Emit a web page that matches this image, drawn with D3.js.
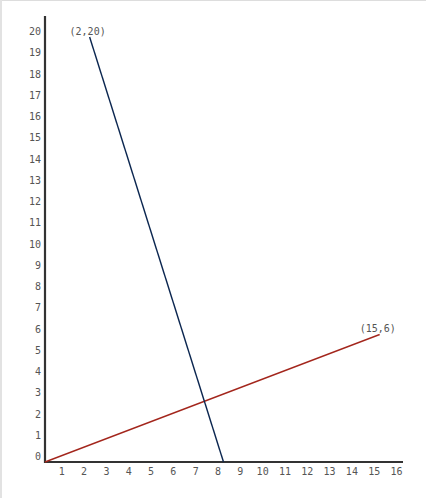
<!DOCTYPE html>
<html>
<head>
<meta charset="UTF-8">
<title>Two lines</title>
<script src="https://d3js.org/d3.v7.min.js"></script>
<style>
  body {margin:0; background:#fff;}
  svg {display:block;}
  .tick text, .lbl {font-family:"DejaVu Sans Mono", monospace; font-size:10px; fill:#555;}
</style>
</head>
<body>
<div id="chart"></div>
<script>
// data
var xTicks = [1,2,3,4,5,6,7,8,9,10,11,12,13,14,15,16];
var yTicks = [0,1,2,3,4,5,6,7,8,9,10,11,12,13,14,15,16,17,18,19,20];
var blueLine = [[2,20],[8,0]];
var redLine = [[0,0],[15,6]];
var pointLabels = [[2,20],[15,6]];

var width = 426, height = 498;

var x = d3.scaleLinear().domain([0,16]).range([45,402]);
var y = d3.scaleLinear().domain([0,20]).range([462,37]);

var svg = d3.select("#chart").append("svg")
    .attr("width", width)
    .attr("height", height);

// faint frame on top and left
svg.append("line").attr("x1",0).attr("x2",width).attr("y1",0.5).attr("y2",0.5)
    .attr("stroke","#ddd").attr("stroke-width",1);
svg.append("line").attr("x1",1).attr("x2",1).attr("y1",0).attr("y2",height)
    .attr("stroke","#e2e2e2").attr("stroke-width",2);

// axes, ticks without marks
var yAxis = svg.append("g")
    .call(d3.axisLeft(y).tickValues(yTicks).tickSize(0).tickFormat(d3.format("d")));
yAxis.select(".domain").remove();
yAxis.selectAll("text")
    .attr("x", 41)
    .attr("y", -6)
    .attr("dy", "0.35em")
    .attr("text-anchor", "end");

var xAxis = svg.append("g")
    .call(d3.axisBottom(x).tickValues(xTicks).tickSize(0).tickFormat(d3.format("d")));
xAxis.select(".domain").remove();
xAxis.attr("transform", "translate(0," + y(0) + ")");
xAxis.selectAll("text")
    .attr("x", -6)
    .attr("y", 9)
    .attr("dy", "0.35em")
    .attr("text-anchor", "middle");

svg.append("line")
    .attr("x1", x(0)).attr("x2", x(0))
    .attr("y1", 16).attr("y2", y(0)+1)
    .attr("stroke", "#333").attr("stroke-width", 2.2);
svg.append("line")
    .attr("x1", x(0)-1).attr("x2", 403)
    .attr("y1", y(0)).attr("y2", y(0))
    .attr("stroke", "#333").attr("stroke-width", 2.2);

var line = d3.line().x(function(d){return x(d[0]);}).y(function(d){return y(d[1]);});

svg.append("path").datum(redLine)
    .attr("d", line)
    .attr("fill","none").attr("stroke","#a3261c").attr("stroke-width",1.4);
svg.append("path").datum(blueLine)
    .attr("d", line)
    .attr("fill","none").attr("stroke","#0b2650").attr("stroke-width",1.4);

svg.selectAll(".lbl").data(pointLabels).enter().append("text")
    .attr("class","lbl")
    .attr("x", function(d){return x(d[0]) - 2;})
    .attr("y", function(d){return y(d[1]) - 6;})
    .attr("dy","0.35em")
    .attr("text-anchor","middle")
    .text(function(d){return "(" + d[0] + "," + d[1] + ")";});
</script>
</body>
</html>
